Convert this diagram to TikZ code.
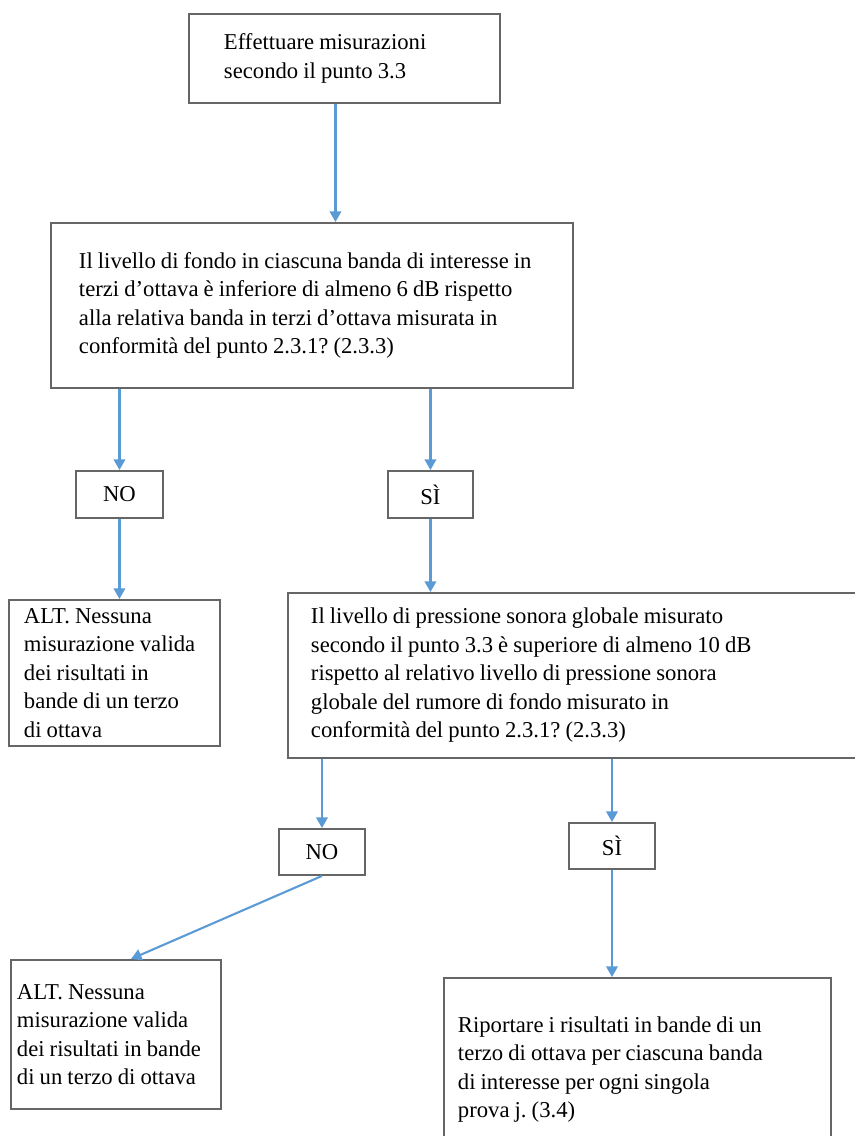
\documentclass[tikz,border=0pt]{standalone}
\usepackage{fontspec}
\setmainfont{Liberation Serif}
\usepackage{tikz}
\usetikzlibrary{arrows.meta,positioning}
\definecolor{flowblue}{RGB}{91,155,213}
\tikzset{>={Triangle[length=6pt,width=6.5pt]}}
\frenchspacing

\begin{document}
\begin{tikzpicture}[
    box/.style={draw=black!60, line width=1.1pt, anchor=north west, align=left, font=\fontsize{12.9}{16.2}\selectfont,
      execute at begin node={\spaceskip=2.9pt plus 1pt minus 0.8pt}},
    answer/.style={box, align=center, minimum width=1.72cm, minimum height=0.92cm, inner sep=0pt},
    flow/.style={->, draw=flowblue, line width=1.2pt}
  ]
    \useasboundingbox (0,0) rectangle (17.1,-22.72);
    \node[box, minimum width=6.22cm, minimum height=1.78cm, text width=4.82cm, inner xsep=0.7cm] (misura) at (3.76,-0.26) {Effettuare misurazioni\\secondo il punto 3.3};
    \node[box, minimum width=10.44cm, minimum height=3.3cm, text width=9.32cm, inner xsep=0.56cm] (fondo) at (1.0,-4.44) {Il livello di fondo in ciascuna banda di interesse in\\terzi d’ottava è inferiore di almeno 6 dB rispetto\\alla relativa banda in terzi d’ottava misurata in\\conformità del punto 2.3.1? (2.3.3)};
    \node[answer, minimum width=1.74cm, minimum height=0.94cm] (no1) at (1.5,-9.4) {NO};
    \node[answer, minimum width=1.7cm, minimum height=0.94cm] (si1) at (7.74,-9.4) {SÌ};
    \node[box, minimum width=4.22cm, minimum height=2.92cm, text width=3.62cm, inner xsep=0.3cm] (alt1) at (0.16,-11.98) {ALT. Nessuna\\misurazione valida\\dei risultati in\\bande di un terzo\\di ottava};
    \node[box, minimum width=11.66cm, minimum height=3.3cm, text width=10.74cm, inner xsep=0.46cm] (globale) at (5.74,-11.84) {Il livello di pressione sonora globale misurato\\secondo il punto 3.3 è superiore di almeno 10 dB\\rispetto al relativo livello di pressione sonora\\globale del rumore di fondo misurato in\\conformità del punto 2.3.1? (2.3.3)};
    \node[answer] (no2) at (5.56,-16.56) {NO};
    \node[answer] (si2) at (11.36,-16.44) {SÌ};
    \node[box, minimum width=4.2cm, minimum height=2.98cm, text width=3.96cm, inner xsep=0.12cm] (alt2) at (0.2,-19.18) {ALT. Nessuna\\misurazione valida\\dei risultati in bande\\di un terzo di ottava};
    \node[box, minimum width=7.74cm, minimum height=3.66cm, text width=7.18cm, inner xsep=0.28cm] (riporta) at (8.86,-19.54) {Riportare i risultati in bande di un\\terzo di ottava per ciascuna banda\\di interesse per ogni singola\\prova j. (3.4)};

    \coordinate (m) at ([xshift=-0.18cm]misura.south);
    \draw[flow] (m) -- (m |- fondo.north);
    \draw[flow] (fondo.south -| no1.north) -- (no1.north);
    \draw[flow] (fondo.south -| si1.north) -- (si1.north);
    \draw[flow] (no1.south) -- (no1.south |- alt1.north);
    \draw[flow] (si1.south) -- (si1.south |- globale.north);
    \draw[flow] (globale.south -| no2.north) -- (no2.north);
    \draw[flow] (globale.south -| si2.north) -- (si2.north);
    \draw[flow] (no2.south) -- ([xshift=0.3cm]alt2.north);
    \draw[flow] (si2.south) -- (si2.south |- riporta.north);
  \end{tikzpicture}
\end{document}
